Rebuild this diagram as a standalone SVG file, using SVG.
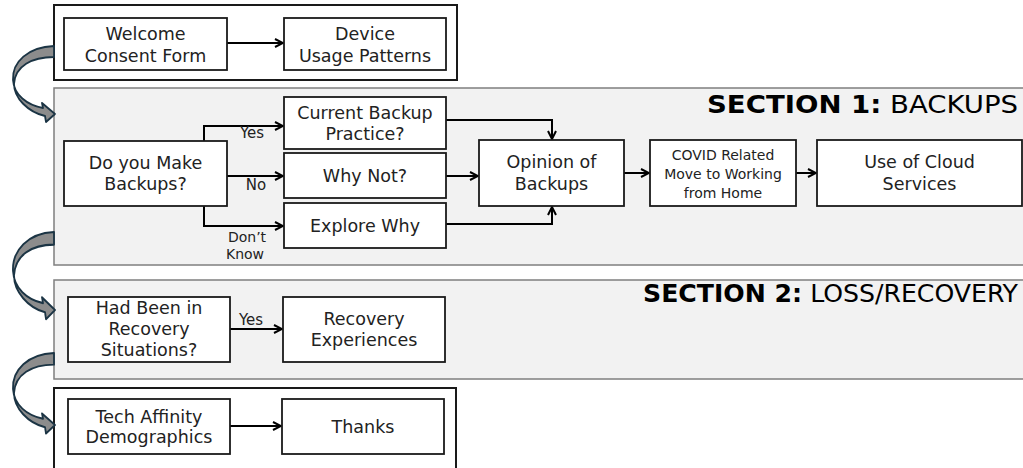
<svg xmlns="http://www.w3.org/2000/svg" width="1023" height="468" viewBox="0 0 1023 468">
<defs>
<marker id="ah" viewBox="0 0 10 10" refX="9" refY="5" markerWidth="10" markerHeight="10" markerUnits="userSpaceOnUse" orient="auto">
<polyline points="1,1 9,5 1,9" fill="none" stroke="#000" stroke-width="2"/>
</marker>
<path id="curv" d="M54,0 C28,1 12,16 13,34 C14,49 27,59 43,62 L42,57 L55,68 L46,76 L45,70 C28,66 14,52 14,38 C15,20 32,11 54,11 Z"/>
</defs>
<style>
.outer{fill:#fff;stroke:#1a1a1a;stroke-width:2}
.panel{fill:#f2f2f2;stroke:#7f7f7f;stroke-width:1.5}
.box{fill:#fff;stroke:#1a1a1a;stroke-width:1.8}
.t{font-family:"DejaVu Sans",sans-serif;font-size:17.5px;fill:#222;text-anchor:middle}
.s{font-family:"DejaVu Sans",sans-serif;font-size:14px;fill:#222;text-anchor:middle}
.lab{font-family:"DejaVu Sans",sans-serif;font-size:15px;fill:#222;text-anchor:middle}
.dk{font-family:"DejaVu Sans",sans-serif;font-size:14px;fill:#222;text-anchor:middle}
.title{font-family:"DejaVu Sans Condensed","Liberation Sans Narrow","DejaVu Sans",sans-serif;font-size:25px;fill:#000}
.c{fill:none;stroke:#000;stroke-width:2;marker-end:url(#ah)}
.ca{fill:#8c8c8c;stroke:#1b3444;stroke-width:1.8;stroke-linejoin:round}
</style>
<rect class="outer" x="54" y="5" width="403" height="75"/>
<rect class="panel" x="54" y="88" width="980" height="177"/>
<rect class="panel" x="54" y="280" width="980" height="99"/>
<rect class="outer" x="54" y="388" width="402" height="90"/>
<text class="title" x="707" y="113" textLength="311" lengthAdjust="spacingAndGlyphs"><tspan font-weight="bold">SECTION 1:</tspan> BACKUPS</text>
<text class="title" x="643" y="302" textLength="375" lengthAdjust="spacingAndGlyphs"><tspan font-weight="bold">SECTION 2:</tspan> LOSS/RECOVERY</text>
<g id="curved-arrows">
<use href="#curv" class="ca" transform="translate(0,46)"/>
<use href="#curv" class="ca" transform="translate(0,232) scale(1,1.147)" style="vector-effect:non-scaling-stroke"/>
<use href="#curv" class="ca" transform="translate(0,353) scale(1,1.06)"/>
</g>
<g id="connectors">
<line class="c" x1="227" y1="43" x2="283" y2="43"/>
<polyline class="c" points="204,141 204,126 283,126"/>
<line class="c" x1="227" y1="176" x2="283" y2="176"/>
<polyline class="c" points="204,206 204,226 283,226"/>
<polyline class="c" points="446,120 552,120 552,139"/>
<line class="c" x1="446" y1="176" x2="478" y2="176"/>
<polyline class="c" points="446,224 552,224 552,207"/>
<line class="c" x1="624" y1="173" x2="649" y2="173"/>
<line class="c" x1="796" y1="173" x2="816" y2="173"/>
<line class="c" x1="230" y1="329" x2="282" y2="329"/>
<line class="c" x1="230" y1="426" x2="281" y2="426"/>
<text class="lab" x="252" y="138">Yes</text>
<text class="lab" x="256" y="190">No</text>
<text class="dk" x="247" y="242">Don’t</text>
<text class="dk" x="245" y="259">Know</text>
<text class="lab" x="251" y="325">Yes</text>
</g>
<g id="welcome"><rect class="box" x="64" y="18" width="163" height="52"/><text class="t" x="145.5" y="40">Welcome</text><text class="t" x="145.5" y="62">Consent Form</text></g>
<g id="device"><rect class="box" x="284" y="18" width="162" height="52"/><text class="t" x="365" y="40">Device</text><text class="t" x="365" y="62">Usage Patterns</text></g>
<g id="make-backups"><rect class="box" x="64" y="141" width="163" height="65"/><text class="t" x="145.5" y="169">Do you Make</text><text class="t" x="145.5" y="190">Backups?</text></g>
<g id="current-practice"><rect class="box" x="284" y="97" width="162" height="52"/><text class="t" x="365" y="119">Current Backup</text><text class="t" x="365" y="140">Practice?</text></g>
<g id="why-not"><rect class="box" x="284" y="153" width="162" height="45"/><text class="t" x="365" y="182">Why Not?</text></g>
<g id="explore-why"><rect class="box" x="284" y="203" width="162" height="45"/><text class="t" x="365" y="232">Explore Why</text></g>
<g id="opinion"><rect class="box" x="479" y="140" width="145" height="66"/><text class="t" x="551.5" y="168">Opinion of</text><text class="t" x="551.5" y="190">Backups</text></g>
<g id="covid"><rect class="box" x="650" y="140" width="146" height="66"/><text class="s" x="723" y="160">COVID Related</text><text class="s" x="723" y="179">Move to Working</text><text class="s" x="723" y="198">from Home</text></g>
<g id="cloud"><rect class="box" x="817" y="140" width="205" height="66"/><text class="t" x="919.5" y="168">Use of Cloud</text><text class="t" x="919.5" y="190">Services</text></g>
<g id="recovery-situations"><rect class="box" x="68" y="297" width="162" height="65"/><text class="t" x="149" y="314">Had Been in</text><text class="t" x="149" y="335">Recovery</text><text class="t" x="149" y="356">Situations?</text></g>
<g id="recovery-experiences"><rect class="box" x="283" y="297" width="162" height="65"/><text class="t" x="364" y="325">Recovery</text><text class="t" x="364" y="346">Experiences</text></g>
<g id="tech-affinity"><rect class="box" x="68" y="399" width="162" height="55"/><text class="t" x="149" y="423">Tech Affinity</text><text class="t" x="149" y="443">Demographics</text></g>
<g id="thanks"><rect class="box" x="282" y="399" width="162" height="55"/><text class="t" x="363" y="433">Thanks</text></g>
</svg>
